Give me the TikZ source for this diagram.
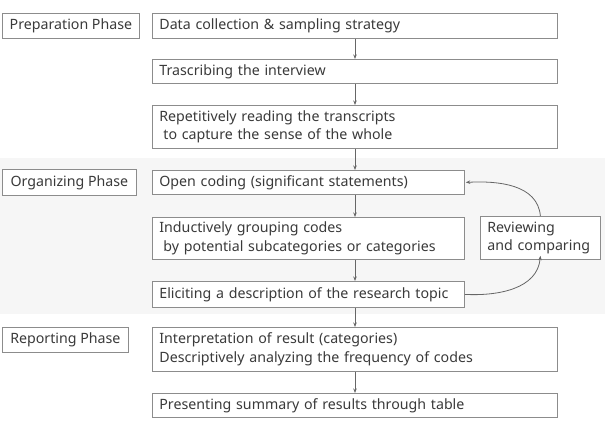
\documentclass[tikz,border=0pt]{standalone}
\usepackage{fontspec}
\setmainfont{Noto Sans}
\usetikzlibrary{arrows.meta}
\definecolor{bordc}{HTML}{8C8C8C}
\definecolor{txtc}{HTML}{3A3A3A}
\definecolor{bandc}{HTML}{F6F6F6}
\definecolor{arrc}{HTML}{666666}
\begin{document}
\begin{tikzpicture}[x=1pt,y=-1pt,
  box/.style={draw=bordc, line width=0.8pt, anchor=north west, inner xsep=7pt, inner ysep=0pt,
    align=left, text=txtc, font=\fontsize{14.2}{18.5}\selectfont, fill=white},
  phase/.style={box, inner xsep=2pt, align=center},
  arr/.style={draw=arrc, line width=0.8pt, -{Stealth[length=4.5pt,width=3.5pt]}}]
\useasboundingbox (0,0) rectangle (605,423);
\fill[bandc] (0,158) rectangle (605,314);
% phase labels
\node[phase, minimum width=137pt, minimum height=25pt] (prep) at (2,13) {Preparation Phase};
\node[phase, minimum width=134pt, minimum height=26pt] (org) at (2,169) {Organizing Phase};
\node[phase, minimum width=126pt, minimum height=25pt] (rep) at (2,327) {Reporting Phase};
% main steps
\node[box, minimum width=405pt, minimum height=25pt, text width=391pt] (b1) at (152,13) {Data collection \& sampling strategy};
\node[box, minimum width=405pt, minimum height=24pt, text width=391pt] (b2) at (152,59) {Trascribing the interview};
\node[box, minimum width=405pt, minimum height=43pt, text width=391pt] (b3) at (152,105) {Repetitively reading the transcripts\\\hspace*{4pt}to capture the sense of the whole};
\node[box, minimum width=312pt, minimum height=24pt, text width=298pt] (b4) at (152,170) {Open coding (significant statements)};
\node[box, minimum width=312pt, minimum height=42pt, text width=298pt] (b5) at (152,217) {Inductively grouping codes\\\hspace*{4pt}by potential subcategories or categories};
\node[box, minimum width=312pt, minimum height=26pt, text width=298pt] (b6) at (152,281) {Eliciting a description of the research topic};
\node[box, minimum width=120pt, minimum height=43pt, text width=106pt] (rev) at (480,216) {Reviewing\\and comparing};
\node[box, minimum width=405pt, minimum height=44pt, text width=391pt] (b7) at (152,327) {Interpretation of result (categories)\\Descriptively analyzing the frequency of codes};
\node[box, minimum width=405pt, minimum height=24pt, text width=391pt] (b8) at (152,393) {Presenting summary of results through table};
% connectors
\coordinate (ax) at (355,0);
\draw[arr] (b1.south -| ax) -- (b2.north -| ax);
\draw[arr] (b2.south -| ax) -- (b3.north -| ax);
\draw[arr] (b3.south -| ax) -- (b4.north -| ax);
\draw[arr] (b4.south -| ax) -- (b5.north -| ax);
\draw[arr] (b5.south -| ax) -- (b6.north -| ax);
\draw[arr] (b6.south -| ax) -- (b7.north -| ax);
\draw[arr] (b7.south -| ax) -- (b8.north -| ax);
\draw[arr] (rev.north) to[out=95,in=3] ([xshift=1pt]b4.east);
\draw[arr] (b6.east) to[out=-3,in=-95] ([yshift=4pt]rev.south);
\end{tikzpicture}
\end{document}
